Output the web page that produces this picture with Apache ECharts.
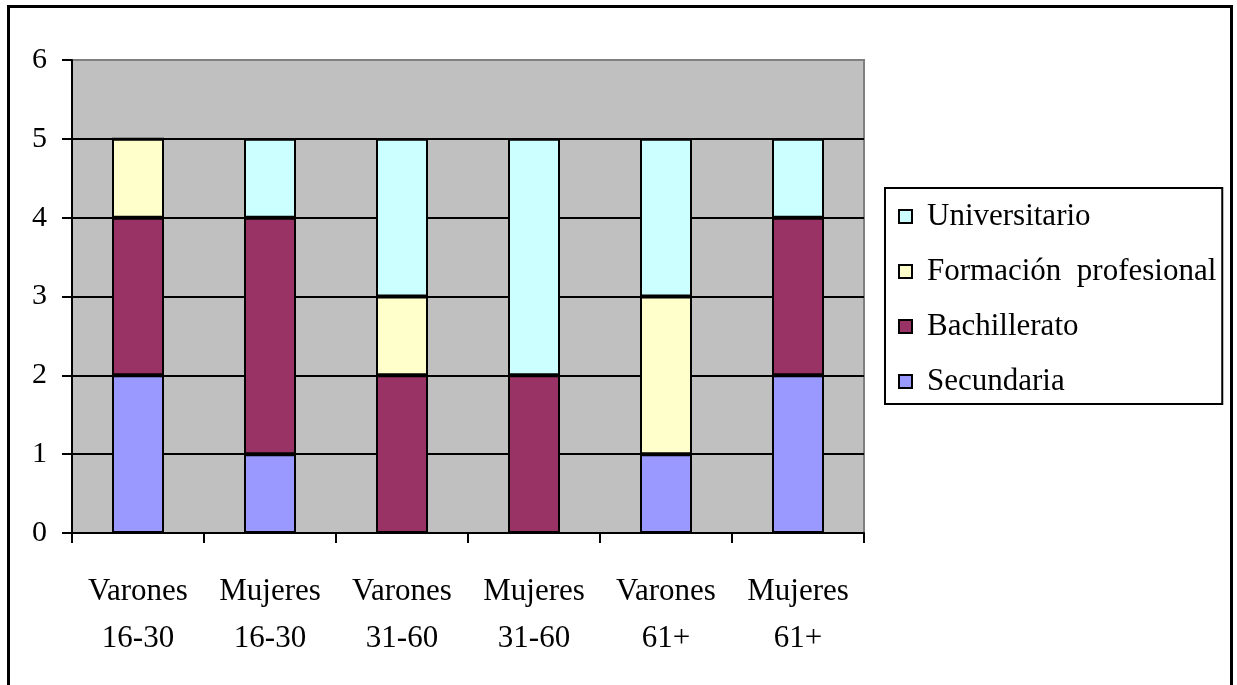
<!DOCTYPE html>
<html>
<head>
<meta charset="utf-8">
<script src="https://cdn.jsdelivr.net/npm/echarts@6/dist/echarts.min.js"></script>
<style>
  html, body { margin: 0; padding: 0; background: #fff; }
  #chart { width: 1237px; height: 685px; }
</style>
</head>
<body>
<div id="chart"></div>
<script>
// Group labels (sex + age band) along the category axis
const categories = ['Varones\n16-30', 'Mujeres\n16-30', 'Varones\n31-60', 'Mujeres\n31-60', 'Varones\n61+', 'Mujeres\n61+'];

// Count per education level, stacked bottom to top
const secundaria    = [2, 1, 0, 0, 1, 2];
const bachillerato  = [2, 3, 2, 2, 0, 2];
const formacionProf = [1, 0, 1, 0, 2, 0];
const universitario = [0, 1, 2, 3, 2, 1];

// Value axis range
const yMin = 0, yMax = 6, yStep = 1;

const FONT = 'Liberation Serif';

function barSeries(name, data, color) {
  return {
    name: name,
    type: 'bar',
    stack: 'total',
    data: data,
    barWidth: 52,
    itemStyle: { color: color, borderColor: '#000', borderWidth: 2 },
    emphasis: { disabled: true }
  };
}

const chart = echarts.init(document.getElementById('chart'), null, { renderer: 'canvas' });

chart.setOption({
  animation: false,
  backgroundColor: '#fff',
  textStyle: { fontFamily: FONT, color: '#000' },
  grid: {
    left: 72, top: 60, right: 373, bottom: 152,
    show: true,
    backgroundColor: '#C0C0C0',
    borderColor: '#808080',
    borderWidth: 2
  },
  legend: {
    orient: 'vertical',
    left: 885, top: 188,
    data: ['Universitario', 'Formación  profesional', 'Bachillerato', 'Secundaria'],
    icon: 'rect',
    itemWidth: 13, itemHeight: 13,
    itemGap: 24,
    padding: [13, 6, 7, 13],
    borderColor: '#000', borderWidth: 2,
    backgroundColor: '#fff',
    selectedMode: false,
    itemStyle: { borderColor: '#000', borderWidth: 2 },
    textStyle: { fontFamily: FONT, fontSize: 31, color: '#000', lineHeight: 30, padding: [0, 0, 0, 10] }
  },
  xAxis: {
    type: 'category',
    data: categories,
    axisLine: { show: true, lineStyle: { color: '#000', width: 2 } },
    axisTick: { show: true, length: 10, lineStyle: { color: '#000', width: 2 } },
    axisLabel: { fontFamily: FONT, fontSize: 31, color: '#000', lineHeight: 47, margin: 35, interval: 0 },
    splitLine: { show: false }
  },
  yAxis: {
    type: 'value',
    min: yMin, max: yMax, interval: yStep,
    axisLine: { show: true, lineStyle: { color: '#000', width: 2 } },
    axisTick: { show: true, length: 10, lineStyle: { color: '#000', width: 2 } },
    axisLabel: { fontFamily: FONT, fontSize: 30, color: '#000', margin: 25, padding: [6, 0, 0, 0] },
    splitLine: { show: true, showMaxLine: false, lineStyle: { color: '#000', width: 2 } }
  },
  series: [
    barSeries('Secundaria', secundaria, '#9999FF'),
    barSeries('Bachillerato', bachillerato, '#993366'),
    barSeries('Formación  profesional', formacionProf, '#FFFFCC'),
    barSeries('Universitario', universitario, '#CCFFFF')
  ],
  graphic: [
    {
      // outer frame of the chart area (open at the bottom)
      type: 'polyline',
      shape: { points: [[8.5, 700], [8.5, 6.5], [1231.5, 6.5], [1231.5, 700]] },
      style: { stroke: '#000', lineWidth: 3, fill: null },
      silent: true,
      z: 100
    }
  ]
});
</script>
</body>
</html>
